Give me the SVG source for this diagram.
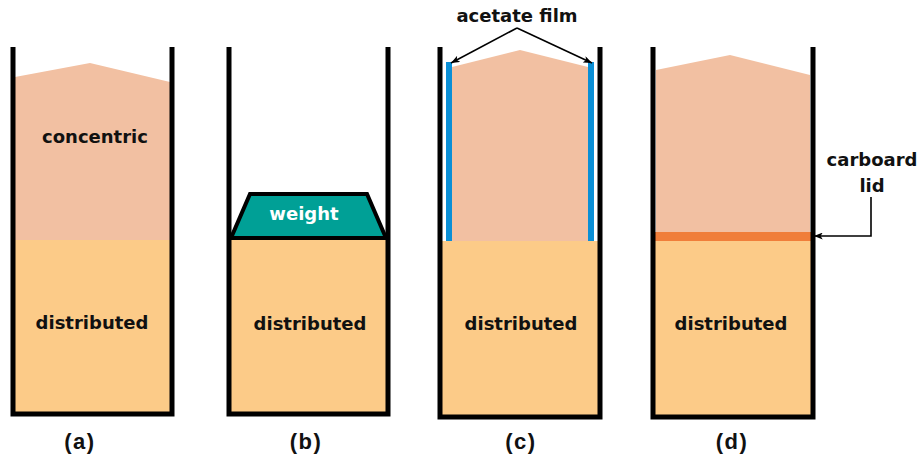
<svg xmlns="http://www.w3.org/2000/svg" width="920" height="457" viewBox="0 0 920 457">
  <style>
    .wall { fill: none; stroke: #000; stroke-width: 5; stroke-linejoin: miter; stroke-linecap: butt; }
    .upper { fill: #F2C0A2; }
    .lower { fill: #FCCB88; }
    .film { fill: #0A8FD6; }
    .lid { fill: #F07E3A; }
    .weight { fill: #00A096; stroke: #000; stroke-width: 4; stroke-linejoin: miter; }
    .lbl { font-family: "DejaVu Sans", Verdana, sans-serif; font-weight: bold; font-size: 18px; fill: #111; text-anchor: middle; }
    .cap { font-family: "Liberation Sans", Arial, sans-serif; font-weight: bold; font-size: 22px; letter-spacing: 1.5px; fill: #111; text-anchor: middle; }
    .lead { fill: none; stroke: #000; stroke-width: 1.6; }
  </style>
  <defs>
    <marker id="tip" viewBox="0 0 10 8" refX="10" refY="4" markerWidth="9" markerHeight="7" markerUnits="userSpaceOnUse" orient="auto">
      <path d="M0,0 L10,4 L0,8 L2.5,4 Z" fill="#000"/>
    </marker>
  </defs>

  <!-- (a) concentric over distributed -->
  <g id="tube-a">
    <polygon class="upper" points="15,77 90,63 170,82 170,240 15,240"/>
    <rect class="lower" x="15" y="240" width="155" height="172"/>
    <path class="wall" d="M13,47 V414 H172 V47"/>
    <text class="lbl" x="95" y="143" font-size="19">concentric</text>
    <text class="lbl" x="92" y="329">distributed</text>
    <text class="cap" x="80" y="449">(a)</text>
  </g>

  <!-- (b) weight on distributed -->
  <g id="tube-b">
    <rect class="lower" x="231" y="238" width="155" height="174"/>
    <polygon class="weight" points="250,194 367,194 386,238 231,238"/>
    <text x="304" y="220" font-family="DejaVu Sans, Verdana, sans-serif" font-weight="bold" font-size="18" fill="#fff" text-anchor="middle">weight</text>
    <path class="wall" d="M229,47 V414 H388 V47"/>
    <text class="lbl" x="310" y="330">distributed</text>
    <text class="cap" x="306" y="449">(b)</text>
  </g>

  <!-- (c) acetate film lining -->
  <g id="tube-c">
    <polygon class="upper" points="452,67 520,50 588,67 588,241 452,241"/>
    <rect class="film" x="446" y="62" width="6" height="179"/>
    <rect class="film" x="588" y="62" width="6" height="179"/>
    <rect class="lower" x="442" y="241" width="156" height="174"/>
    <path class="wall" d="M440,47 V417 H600 V47"/>
    <text class="lbl" x="521" y="330">distributed</text>
    <text class="cap" x="521" y="449">(c)</text>
  </g>

  <!-- (d) cardboard lid between layers -->
  <g id="tube-d">
    <polygon class="upper" points="656,70 730,55 810,75 810,232 656,232"/>
    <rect class="lid" x="655" y="232" width="156" height="9"/>
    <rect class="lower" x="655" y="241" width="156" height="174"/>
    <path class="wall" d="M653,47 V417 H813 V47"/>
    <text class="lbl" x="731" y="330">distributed</text>
    <text class="cap" x="732" y="449">(d)</text>
  </g>

  <!-- callout labels -->
  <g id="label-film">
    <text class="lbl" x="517" y="22">acetate film</text>
  </g>
  <g id="label-lid">
    <text class="lbl" x="872" y="166">carboard</text>
    <text class="lbl" x="872" y="192">lid</text>
  </g>

  <g id="connectors">
    <line class="lead" x1="517" y1="28" x2="451" y2="63" marker-end="url(#tip)"/>
    <line class="lead" x1="517" y1="28" x2="592" y2="63" marker-end="url(#tip)"/>
    <polyline class="lead" points="871,197 871,236 814,236" marker-end="url(#tip)"/>
  </g>
</svg>
